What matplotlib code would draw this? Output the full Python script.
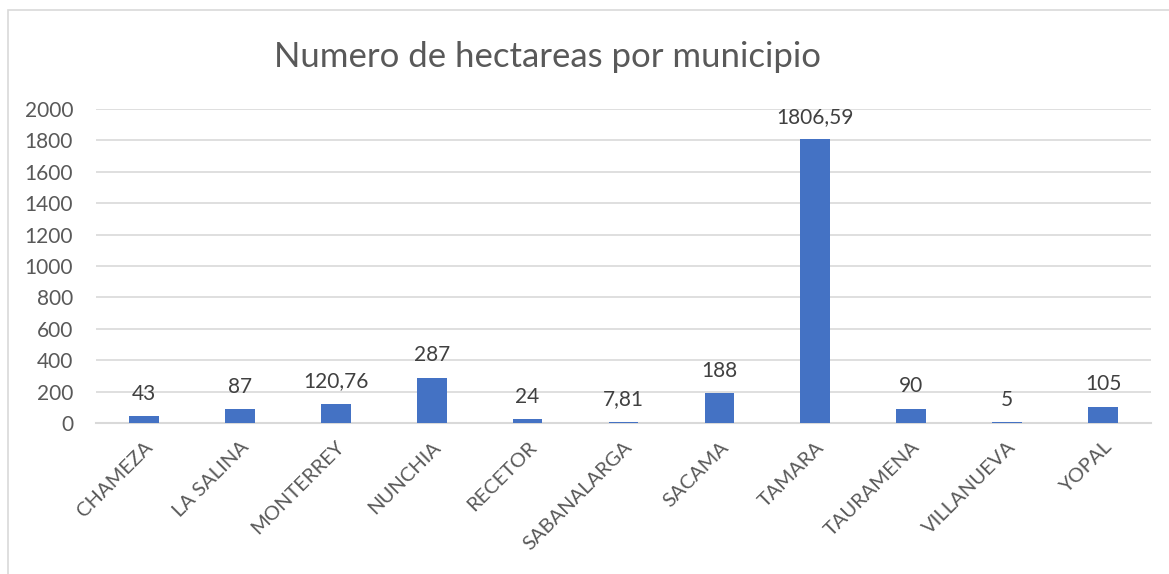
import matplotlib.pyplot as plt
from matplotlib.patches import Rectangle

municipios = ['CHAMEZA', 'LA SALINA', 'MONTERREY', 'NUNCHIA', 'RECETOR', 'SABANALARGA',
              'SACAMA', 'TAMARA', 'TAURAMENA', 'VILLANUEVA', 'YOPAL']
hectareas = [43, 87, 120.76, 287, 24, 7.81, 188, 1806.59, 90, 5, 105]
yticks = [0, 200, 400, 600, 800, 1000, 1200, 1400, 1600, 1800, 2000]

plt.rcParams['font.family'] = ['Lato', 'DejaVu Sans']
txt = '#595959'

fig = plt.figure(figsize=(11.69, 5.74), dpi=100)
W, H = 1169, 574
# chart border
fig.patches.append(Rectangle((8 / W, -0.01), 1.2, 1 - 10 / H + 0.01, transform=fig.transFigure,
                             fill=False, edgecolor='#D9D9D9', linewidth=1.2))

ax = fig.add_axes([96 / W, 1 - 423 / H, (1151 - 96) / W, (423 - 109) / H])
x = list(range(len(municipios)))
ax.bar(x, hectareas, width=0.31, color='#4472C4', zorder=3)
ax.set_xlim(-0.5, len(municipios) - 0.5)
ax.set_ylim(0, 2000)
ax.set_yticks(yticks)
ax.set_yticklabels([str(v) for v in yticks])
ax.yaxis.grid(True, color='#D9D9D9', linewidth=1.2, zorder=0)
ax.set_axisbelow(True)
for s in ['top', 'right', 'left']:
    ax.spines[s].set_visible(False)
ax.spines['bottom'].set_color('#D9D9D9')
ax.spines['bottom'].set_linewidth(1.5)
ax.tick_params(axis='y', length=0, pad=16.5, labelsize=15, labelcolor=txt)
ax.tick_params(axis='x', length=0, pad=11, labelsize=14.5, labelcolor=txt)
ax.set_xticks(x)
ax.set_xticklabels(municipios, rotation=45, ha='right', rotation_mode='anchor')

for xi, v in zip(x, hectareas):
    lab = f'{v:g}'.replace('.', ',')
    ax.annotate(lab, (xi, v), xytext=(0, 9), textcoords='offset points',
                ha='center', va='bottom', fontsize=15, color='#404040')

fig.text(548 / W, 1 - 57 / H, 'Numero de hectareas por municipio', ha='center', va='center',
         fontsize=25, color=txt)

fig.savefig('out.png', dpi=100)
